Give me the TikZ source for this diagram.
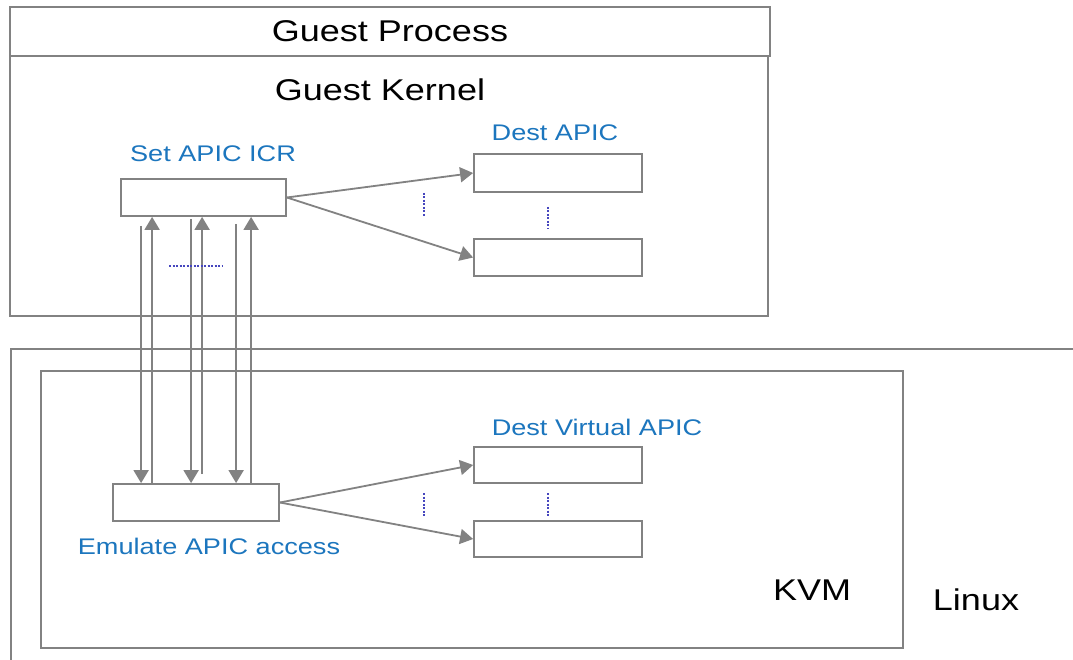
\documentclass[tikz,border=0pt]{standalone}
\usepackage{fontspec}
\setmainfont[FakeStretch=1.2]{Liberation Sans}
\usetikzlibrary{arrows.meta}
\definecolor{linegray}{RGB}{130,130,130}
\definecolor{labelblue}{RGB}{28,118,190}
\definecolor{dotblue}{RGB}{70,70,190}
\tikzset{
  frame/.style={draw=linegray, line width=1.8pt, inner sep=0pt},
  unit/.style={draw=linegray, line width=1.8pt, fill=white, inner sep=0pt},
  arr/.style={draw=linegray, line width=1.8pt, -{Triangle[length=13pt,width=15pt]}},
  gap/.style={draw=dotblue, line width=1.3pt, dash pattern=on 2pt off 1.5pt},
  bigtext/.style={inner sep=0pt, font=\fontsize{30}{36}\selectfont},
  bluetext/.style={inner sep=0pt, text=labelblue, font=\fontsize{22.6}{27}\selectfont},
}
\begin{document}
\begin{tikzpicture}[x=1pt, y=-1pt]
\useasboundingbox[fill=white] (0,0) rectangle (1073,660);

% outer layers
\draw[frame] (1073,349) -- (11,349) -- (11,665);
\node[frame, minimum width=760pt, minimum height=49pt] (proc) at (390,31.5) {};
\node[frame, minimum width=758pt, minimum height=260pt] (kern) at (389,186) {};
\node[frame, minimum width=862pt, minimum height=277pt] (kvm) at (472,509.5) {};

\node[bigtext] (proclbl) at (390,31) {Guest Process};
\node[bigtext] (kernlbl) at (380,90) {Guest Kernel};
\node[bigtext] (kvmlbl) at (812,590) {KVM};
\node[bigtext] (linuxlbl) at (976,600) {Linux};

% guest side
\node[unit, minimum width=165pt, minimum height=37pt] (icr) at (203.5,197.5) {};
\node[unit, minimum width=168pt, minimum height=38pt] (d1) at (558,173) {};
\node[unit, minimum width=168pt, minimum height=37pt] (d2) at (558,257.5) {};
\node[bluetext] (icrlbl) at (213,154) {Set APIC ICR};
\node[bluetext] (dlbl) at (555,133) {Dest APIC};

% host side
\node[unit, minimum width=166pt, minimum height=37pt] (emu) at (196,502.5) {};
\node[unit, minimum width=168pt, minimum height=36pt] (v1) at (558,465) {};
\node[unit, minimum width=168pt, minimum height=36pt] (v2) at (558,539) {};
\node[bluetext] (vlbl) at (597,427) {Dest Virtual APIC};
\node[bluetext] (emulbl) at (209,546) {Emulate APIC access};

% fan-out to destinations
\draw[arr] (icr.east) -- (d1.west);
\draw[arr] (icr.east) -- (d2.west);
\draw[arr] (emu.east) -- (v1.west);
\draw[arr] (emu.east) -- (v2.west);

% traps into the hypervisor (down) and returns (up)
\draw[arr] ([xshift=21pt]icr.south west) ++(0,9) -- ([xshift=21pt]icr.south west |- emu.north);
\draw[arr] ([xshift=71pt]icr.south west) ++(0,2) -- ([xshift=71pt]icr.south west |- emu.north);
\draw[arr] ([xshift=116pt]icr.south west) ++(0,7) -- ([xshift=116pt]icr.south west |- emu.north);
\draw[arr] ([xshift=32pt]icr.south west |- emu.north) -- ([xshift=32pt]icr.south west);
\draw[arr] ([xshift=82pt]icr.south west |- emu.north) ++(0,-9) -- ([xshift=82pt]icr.south west);
\draw[arr] ([xshift=131pt]icr.south west |- emu.north) -- ([xshift=131pt]icr.south west);

% ellipsis marks
\coordinate (h1) at (169,266); \coordinate (h2) at (223,266);
\draw[gap] (h1) -- (h2);
\coordinate (g1) at (424,193); \coordinate (g2) at (424,217);
\draw[gap] (g1) -- (g2);
\coordinate (g3) at (548,207); \coordinate (g4) at (548,229);
\draw[gap] (g3) -- (g4);
\coordinate (g5) at (424,493); \coordinate (g6) at (424,516);
\draw[gap] (g5) -- (g6);
\coordinate (g7) at (548,493); \coordinate (g8) at (548,516);
\draw[gap] (g7) -- (g8);
\end{tikzpicture}
\end{document}
